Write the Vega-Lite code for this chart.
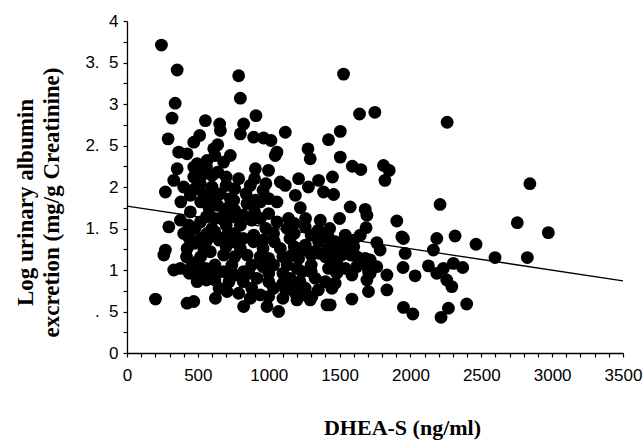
{
  "$schema": "https://vega.github.io/schema/vega-lite/v6.json",
  "width": 496,
  "height": 332,
  "autosize": {"type": "none"},
  "padding": {"left": 127, "top": 21, "right": 21, "bottom": 93},
  "background": "white",
  "datasets": {
    "pts": [
      {"d":243,"u":3.71},{"d":354,"u":3.41},{"d":788,"u":3.34},{"d":800,"u":3.07},{"d":340,"u":3.01},{"d":318,"u":2.83},{"d":910,"u":2.86},{"d":553,"u":2.80},{"d":654,"u":2.76},{"d":659,"u":2.68},{"d":823,"u":2.76},{"d":800,"u":2.64},{"d":894,"u":2.60},{"d":964,"u":2.59},{"d":1016,"u":2.56},{"d":1117,"u":2.66},{"d":290,"u":2.58},{"d":471,"u":2.54},{"d":513,"u":2.62},{"d":640,"u":2.51},{"d":1277,"u":2.46},{"d":1058,"u":2.42},{"d":365,"u":2.42},
      {"d":1528,"u":3.36},{"d":1641,"u":2.88},{"d":1749,"u":2.90},{"d":2259,"u":2.78},{"d":1505,"u":2.67},{"d":1422,"u":2.57},{"d":1505,"u":2.36},
      {"d":1590,"u":2.25},{"d":1650,"u":2.21},{"d":1810,"u":2.26},{"d":1850,"u":2.20},{"d":1820,"u":2.08},{"d":1450,"u":2.12},{"d":1458,"u":1.91},{"d":1575,"u":1.76},{"d":1500,"u":1.62},{"d":1681,"u":1.73},{"d":1693,"u":1.66},{"d":1687,"u":1.51},{"d":1646,"u":1.42},
      {"d":2843,"u":2.04},{"d":2209,"u":1.79},{"d":1904,"u":1.59},{"d":2754,"u":1.57},{"d":2973,"u":1.45},{"d":1951,"u":1.38},{"d":2315,"u":1.41},{"d":2186,"u":1.38},{"d":2463,"u":1.31},{"d":1763,"u":1.33},{"d":1786,"u":1.24},{"d":1528,"u":1.34},{"d":1528,"u":1.22},{"d":2162,"u":1.24},{"d":1963,"u":1.20},{"d":2597,"u":1.15},{"d":2825,"u":1.15},{"d":1716,"u":1.12},{"d":2303,"u":1.08},{"d":2369,"u":1.03},{"d":2233,"u":1.02},{"d":2127,"u":1.05},{"d":1948,"u":1.03},{"d":2186,"u":0.96},{"d":1763,"u":1.04},{"d":1669,"u":1.08},{"d":1834,"u":0.94},{"d":2033,"u":0.93},{"d":2256,"u":0.88},{"d":2292,"u":0.80},{"d":1693,"u":0.88},{"d":1469,"u":0.84},{"d":1834,"u":0.76},{"d":1704,"u":0.74},{"d":1587,"u":0.65},{"d":1434,"u":0.58},{"d":1951,"u":0.55},{"d":2017,"u":0.47},{"d":2397,"u":0.59},{"d":2268,"u":0.54},{"d":2216,"u":0.43},{"d":1622,"u":1.16},{"d":1716,"u":0.96},{"d":1939,"u":1.40},
      {"d":201,"u":0.65},{"d":271,"u":1.24},{"d":260,"u":1.18},{"d":330,"u":1.00},{"d":295,"u":1.52},{"d":424,"u":0.60},{"d":471,"u":0.62},{"d":624,"u":0.66},{"d":823,"u":0.56},{"d":1070,"u":0.50},{"d":988,"u":0.56},{"d":1199,"u":0.64},{"d":1293,"u":0.64},{"d":1411,"u":0.58},{"d":495,"u":1.10},{"d":495,"u":0.86},{"d":682,"u":1.60},{"d":753,"u":1.64},{"d":377,"u":1.60},{"d":436,"u":1.54},{"d":1223,"u":1.75},{"d":1364,"u":1.60},{"d":1211,"u":1.14},
      {"d":424,"u":2.40},{"d":612,"u":2.46},{"d":471,"u":2.24},{"d":541,"u":2.16},{"d":518,"u":2.04},{"d":447,"u":1.90},{"d":729,"u":2.38},{"d":682,"u":2.30},{"d":788,"u":2.10},{"d":906,"u":2.22},{"d":999,"u":2.20},{"d":1046,"u":2.38},{"d":1082,"u":2.06},{"d":870,"u":2.02},{"d":847,"u":1.80},{"d":941,"u":1.82},{"d":1058,"u":1.82},{"d":729,"u":1.86},{"d":636,"u":1.90},{"d":682,"u":1.66},{"d":447,"u":1.70},{"d":518,"u":1.58},{"d":941,"u":1.62},{"d":1058,"u":1.58},{"d":800,"u":1.54},{"d":565,"u":1.44},{"d":706,"u":1.42},{"d":1034,"u":1.44},{"d":894,"u":1.42},
      {"d":1293,"u":2.34},{"d":1211,"u":2.10},{"d":1352,"u":2.08},{"d":1387,"u":1.94},{"d":1188,"u":1.90},{"d":1258,"u":1.52},{"d":1140,"u":1.62},{"d":1540,"u":1.42},{"d":1117,"u":2.02},
      {"d":706,"u":0.74},{"d":788,"u":0.72},{"d":588,"u":1.22},{"d":553,"u":1.02},{"d":682,"u":0.98},{"d":682,"u":1.18},{"d":847,"u":1.18},{"d":823,"u":0.98},{"d":917,"u":0.90},{"d":941,"u":0.70},{"d":1034,"u":0.78},{"d":1034,"u":1.06},{"d":1082,"u":1.26},{"d":894,"u":1.34},{"d":753,"u":1.34},{"d":424,"u":1.26},{"d":377,"u":1.02},
      {"d":1305,"u":0.68},{"d":1446,"u":0.78},{"d":1422,"u":1.02},{"d":1188,"u":0.72},{"d":1258,"u":0.78},{"d":1704,"u":0.98},{"d":1681,"u":1.14},{"d":1164,"u":1.18},{"d":1258,"u":1.30},{"d":1352,"u":1.34},{"d":1516,"u":1.18},{"d":1469,"u":1.34},{"d":1235,"u":0.98},{"d":1328,"u":0.90},{"d":1152,"u":0.90},{"d":1587,"u":0.94},{"d":1540,"u":1.02},
      {"d":354,"u":2.22},{"d":330,"u":2.08},{"d":271,"u":1.94},{"d":495,"u":2.28},{"d":565,"u":2.32},{"d":471,"u":2.12},{"d":565,"u":1.36},{"d":471,"u":1.32},{"d":400,"u":1.44},{"d":659,"u":1.92},{"d":753,"u":1.84},{"d":906,"u":1.84},
      {"d":600,"u":1.50},{"d":980,"u":1.50},{"d":1130,"u":1.50},{"d":1350,"u":1.48},{"d":1430,"u":1.50},
      {"d":520,"u":1.38},{"d":650,"u":1.36},{"d":820,"u":1.38},{"d":960,"u":1.36},{"d":1150,"u":1.38},{"d":1400,"u":1.40},{"d":1600,"u":1.36},
      {"d":540,"u":1.27},{"d":700,"u":1.28},{"d":800,"u":1.26},{"d":960,"u":1.26},{"d":1180,"u":1.28},{"d":1420,"u":1.26},{"d":1600,"u":1.28},
      {"d":520,"u":1.16},{"d":760,"u":1.16},{"d":940,"u":1.16},{"d":1000,"u":1.14},{"d":1100,"u":1.16},{"d":1300,"u":1.18},{"d":1400,"u":1.16},{"d":1580,"u":1.18},
      {"d":460,"u":1.06},{"d":620,"u":1.06},{"d":740,"u":1.06},{"d":880,"u":1.06},{"d":960,"u":1.04},{"d":1130,"u":1.06},{"d":1300,"u":1.06},{"d":1480,"u":1.08},{"d":1620,"u":1.04},
      {"d":520,"u":0.96},{"d":600,"u":0.96},{"d":760,"u":0.94},{"d":1000,"u":0.96},{"d":1100,"u":0.96},{"d":1480,"u":0.96},
      {"d":620,"u":0.88},{"d":720,"u":0.86},{"d":820,"u":0.86},{"d":1000,"u":0.86},{"d":1100,"u":0.84},{"d":1220,"u":0.86},{"d":1400,"u":0.86},
      {"d":650,"u":0.78},{"d":880,"u":0.78},{"d":1120,"u":0.76},{"d":1350,"u":0.76},
      {"d":870,"u":0.66},{"d":1000,"u":0.68},{"d":1100,"u":0.66},
      {"d":580,"u":1.74},{"d":760,"u":1.72},{"d":900,"u":1.70},{"d":1000,"u":1.68},{"d":620,"u":1.62},{"d":1180,"u":1.56},
      {"d":600,"u":2.14},{"d":700,"u":2.02},{"d":960,"u":1.96},{"d":1280,"u":2.00},{"d":580,"u":1.86},
      {"d":420,"u":1.16},{"d":440,"u":0.96},{"d":560,"u":0.88},{"d":860,"u":0.96},{"d":1220,"u":1.22},{"d":1040,"u":1.34},{"d":1360,"u":1.20},{"d":1440,"u":1.12},
      {"d":540,"u":1.92},{"d":600,"u":2.00},{"d":480,"u":1.98},{"d":560,"u":2.24},{"d":640,"u":2.18},{"d":700,"u":2.12},{"d":620,"u":2.38},{"d":760,"u":1.98},{"d":840,"u":1.92},{"d":720,"u":1.76},{"d":640,"u":1.78},{"d":520,"u":1.82},{"d":480,"u":1.50},{"d":440,"u":1.38},{"d":900,"u":2.10},{"d":980,"u":2.04},{"d":1000,"u":1.86},{"d":880,"u":1.60},{"d":700,"u":1.54},{"d":820,"u":1.66},{"d":560,"u":1.64},{"d":620,"u":1.46},{"d":760,"u":1.44},{"d":380,"u":1.82},{"d":400,"u":2.00},
      {"d":1180,"u":1.44},{"d":1300,"u":1.42},{"d":1420,"u":1.40},{"d":1260,"u":1.62},{"d":1320,"u":1.22},{"d":1480,"u":1.24},{"d":1200,"u":1.02},{"d":1300,"u":0.98},{"d":1160,"u":0.80},{"d":1240,"u":0.70}
    ],
    "fit": [
      {"d":0,"u":1.77},{"d":3500,"u":0.87}
    ]
  },
  "encoding": {
    "x": {
      "field": "d", "type": "quantitative",
      "scale": {"domain": [0, 3500], "nice": false, "zero": false},
      "axis": {
        "values": [0,100,200,300,400,500,600,700,800,900,1000,1100,1200,1300,1400,1500,1600,1700,1800,1900,2000,2100,2200,2300,2400,2500,2600,2700,2800,2900,3000,3100,3200,3300,3400,3500],
        "labelExpr": "datum.value % 500 == 0 ? '' + datum.value : ''",
        "labelOverlap": false,
        "labelFlush": false,
        "labelPadding": 10,
        "title": "DHEA-S (ng/ml)",
        "titleFontSize": 22,
        "titleX": 275,
        "titleY": 81,
        "titleAlign": "center",
        "titleBaseline": "alphabetic"
      }
    },
    "y": {
      "field": "u", "type": "quantitative",
      "scale": {"domain": [0, 4], "nice": false, "zero": false},
      "axis": {
        "values": [0,0.25,0.5,0.75,1,1.25,1.5,1.75,2,2.25,2.5,2.75,3,3.25,3.5,3.75,4],
        "labelExpr": "datum.value % 1 == 0 ? datum.value + '\u00a0\u00a0' : (datum.value == 0.5 ? '.\u00a0\u00a05' : (datum.value % 1 == 0.5 ? floor(datum.value) + '.\u00a0\u00a05' : ''))",
        "labelOverlap": false,
        "labelFlush": false,
        "labelPadding": 5,
        "title": ["\u00a0\u00a0\u00a0\u00a0Log urinary albumin", "excretion (mg/g Creatinine)"],
        "titleFontSize": 23,
        "titleAngle": -90,
        "titleX": -95,
        "titleY": 181,
        "titleAlign": "center",
        "titleBaseline": "alphabetic",
        "titleLineHeight": 26
      }
    }
  },
  "layer": [
    {
      "data": {"name": "pts"},
      "mark": {"type": "circle", "size": 165, "color": "#000", "opacity": 1}
    },
    {
      "data": {"name": "fit"},
      "mark": {"type": "line", "color": "#000", "strokeWidth": 1.3}
    }
  ],
  "config": {
    "view": {"stroke": null},
    "axis": {
      "grid": false,
      "domainColor": "#000",
      "tickColor": "#000",
      "labelColor": "#000",
      "titleColor": "#000",
      "labelFont": "Liberation Sans",
      "labelFontSize": 17,
      "titleFont": "Liberation Serif",
      "titleFontWeight": "bold",
      "tickSize": 4,
      "tickWidth": 1.2,
      "domainWidth": 1.3
    }
  }
}
